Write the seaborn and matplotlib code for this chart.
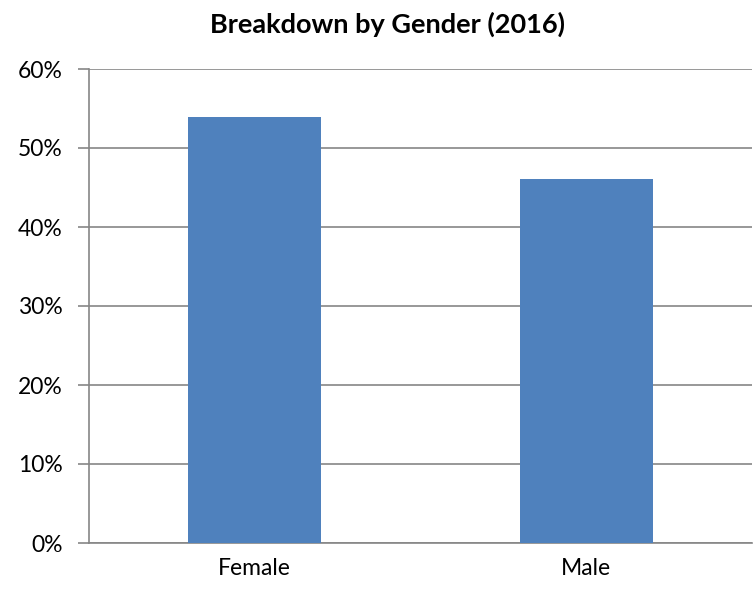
import matplotlib
matplotlib.use("Agg")
import matplotlib.pyplot as plt
import seaborn as sns
import pandas as pd
from matplotlib.ticker import PercentFormatter

genders = ["Female", "Male"]
shares = [53.9, 46.1]

df = pd.DataFrame({"gender": genders, "share": shares})

sns.set_theme(style="white")
plt.rcParams["font.family"] = ["Lato", "DejaVu Sans"]
plt.rcParams["text.color"] = "black"
plt.rcParams["xtick.color"] = "black"
plt.rcParams["ytick.color"] = "black"

grey = "#868686"
fig = plt.figure(figsize=(7.53, 5.92), dpi=100)
ax = fig.add_axes([89 / 753, 49 / 592, 663 / 753, 474 / 592])

sns.barplot(data=df, x="gender", y="share", color="#4F81BD", saturation=1,
            width=0.4, linewidth=0, ax=ax, zorder=3)

ax.set_ylim(0, 60)
ax.set_xlim(-0.5, 1.5)
ax.set_yticks(range(0, 61, 10))
ax.yaxis.set_major_formatter(PercentFormatter(decimals=0))
ax.yaxis.grid(True, color=grey, linewidth=1.2, zorder=0)
ax.set_axisbelow(True)

# category boundary ticks on x axis
ax.set_xticks([0, 1])
ax.set_xticks([-0.5, 0.5, 1.5], minor=True)
ax.tick_params(axis="x", which="major", length=0, pad=11, labelsize=16.5, labelcolor="black")
ax.tick_params(axis="x", which="minor", length=6, width=1.2, color=grey, direction="out")
ax.tick_params(axis="y", length=8, width=1.2, color=grey, direction="out", pad=11,
               labelsize=16.5, labelcolor="black", left=True)

for side in ["top", "right"]:
    ax.spines[side].set_visible(False)
for side in ["left", "bottom"]:
    ax.spines[side].set_color(grey)
    ax.spines[side].set_linewidth(1.2)

ax.set_xlabel("")
ax.set_ylabel("")
fig.text(388 / 753, 1 - 24 / 592, "Breakdown by Gender (2016)", ha="center", va="center",
         fontsize=19.5, fontweight="bold", color="black")

fig.savefig("out.png", dpi=100)
